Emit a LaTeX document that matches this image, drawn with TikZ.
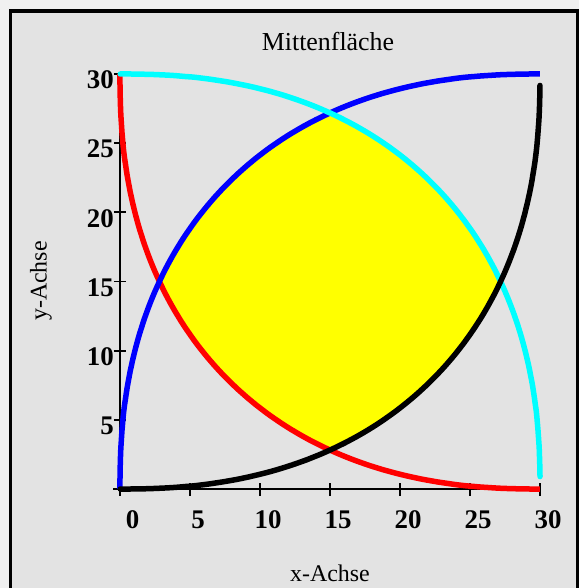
\documentclass[tikz,border=0pt]{standalone}
\usepackage{fontspec}
\setmainfont{Liberation Serif}
\usetikzlibrary{positioning}
\definecolor{PageBg}{HTML}{F0F0F0}
\definecolor{PanelBg}{HTML}{E3E3E3}
\definecolor{CurveRed}{HTML}{FF0000}
\definecolor{CurveBlue}{HTML}{0000FF}
\definecolor{CurveCyan}{HTML}{00FFFF}
\definecolor{AreaYellow}{HTML}{FFFF00}
\tikzset{
    curve/.style={line width=5.5bp, smooth, samples=120, variable=\t},
    areapart/.style={smooth, samples=50, variable=\t, domain=26.78:63.22},
    axisline/.style={line width=1.8bp, draw=black},
    ticklbl/.style={font=\fontsize{27}{29}\selectfont\bfseries, inner sep=0pt},
    axislbl/.style={font=\fontsize{24}{26}\selectfont, inner sep=0pt}
}
% exponent 2/p of the superellipse (p = 2.3)
\def\ex{0.8696}

\begin{document}
\begin{tikzpicture}[x=1bp, y=1bp]

    % --- PAGE AND FRAME ---
    \useasboundingbox (0,0) rectangle (579,588);
    \clip (0,0) rectangle (579,588);
    \fill[PageBg] (0,0) rectangle (579,588);
    \filldraw[fill=PanelBg, draw=black, line width=3.5bp] (10.5,-10) rectangle (577.5,577);

    % --- LABELS ---
    \node[axislbl, anchor=base, font=\fontsize{26}{28}\selectfont] (title) at (328,537) {Mittenfläche};
    \node[axislbl, anchor=base] (xlabel) at (330,6) {x-Achse};
    \node[axislbl, anchor=base, rotate=90] (ylabel) at (46.5,307) {y-Achse};

    \begin{scope}[shift={(120,99)}, x=14bp, y=13.833bp]

        % --- AXES ---
        \draw[axisline] (-0.5,0) -- (30,0);
        \draw[axisline] (0,0) -- (0,30);
        \foreach \v in {0,5,...,30} {
            \pgfmathsetmacro\dx{\v==0 ? 12.5 : 8}
            \draw[axisline] (\v,0.43) -- (\v,-0.5);
            \node[ticklbl, anchor=base] (xt\v) at ([xshift=\dx bp]\v,-2.82) {\v};
        }
        \foreach \v in {5,10,...,30} {
            \draw[axisline] (-0.43,\v) -- (0.43,\v);
            \node[ticklbl, anchor=east] (yt\v) at ([xshift=-6bp, yshift=-6bp]0,\v) {\v};
        }

        % --- MIDDLE AREA ---
        \fill[AreaYellow]
            plot[areapart] ({30-30*pow(cos(\t),\ex)}, {30*pow(sin(\t),\ex)})
            -- plot[areapart] ({30*pow(sin(\t),\ex)}, {30*pow(cos(\t),\ex)})
            -- plot[areapart] ({30*pow(cos(\t),\ex)}, {30-30*pow(sin(\t),\ex)})
            -- plot[areapart] ({30-30*pow(sin(\t),\ex)}, {30-30*pow(cos(\t),\ex)})
            -- cycle;

        % --- CURVES ---
        \draw[curve, CurveRed, domain=0.01:89.99]
            plot ({30-30*pow(cos(\t),\ex)}, {30-30*pow(sin(\t),\ex)});
        \draw[curve, CurveBlue, domain=0.01:89.99]
            plot ({30-30*pow(cos(\t),\ex)}, {30*pow(sin(\t),\ex)});
        \draw[curve, CurveCyan, line cap=round, domain=1:89.99]
            plot ({30*pow(cos(\t),\ex)}, {30*pow(sin(\t),\ex)});
        \draw[curve, black, line cap=round, domain=0.9:89.99]
            plot ({30*pow(cos(\t),\ex)}, {30-30*pow(sin(\t),\ex)});

    \end{scope}

\end{tikzpicture}
\end{document}
